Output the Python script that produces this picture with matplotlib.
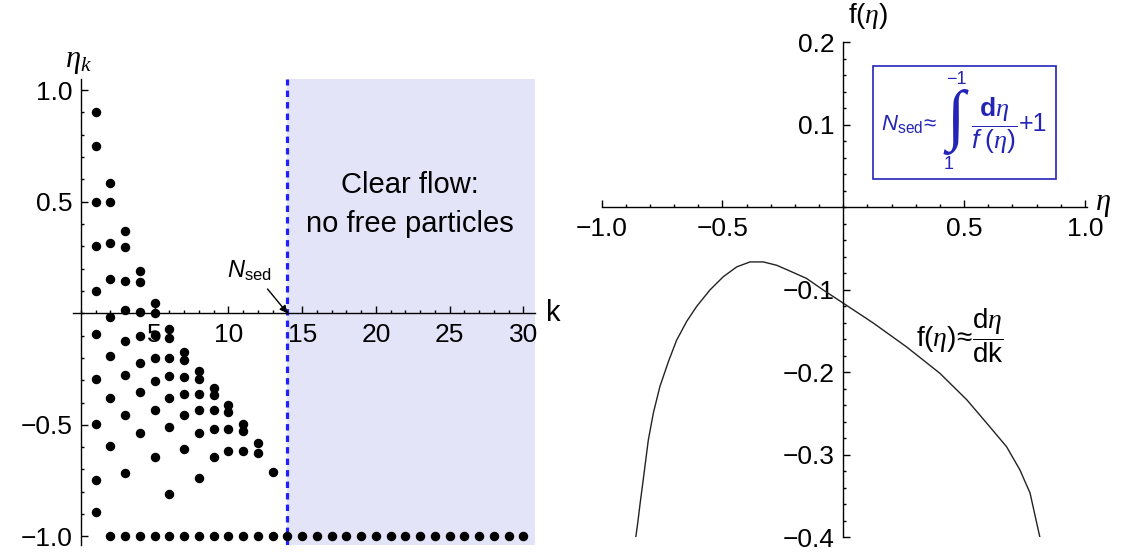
import matplotlib.pyplot as plt
from matplotlib.patches import Rectangle
from matplotlib.ticker import MultipleLocator

plt.rcParams['font.family'] = ['Liberation Sans', 'DejaVu Sans']
plt.rcParams['mathtext.fontset'] = 'custom'
plt.rcParams['mathtext.rm'] = 'Liberation Sans'
plt.rcParams['mathtext.it'] = 'Liberation Serif:italic'
plt.rcParams['mathtext.bf'] = 'Liberation Sans:bold'
plt.rcParams['mathtext.cal'] = 'Liberation Sans:italic'

# free particle positions eta at each step k
col_1 = [0.9, 0.75, 0.5, 0.3, 0.1, -0.095, -0.295, -0.497, -0.747, -0.892]
col_2 = [0.585, 0.5, 0.315, 0.155, -0.018, -0.192, -0.38, -0.594]
col_3 = [0.37, 0.298, 0.146, 0.016, -0.124, -0.277, -0.456, -0.717]
col_4 = [0.19, 0.14, 0.007, -0.10, -0.221, -0.351, -0.538]
col_5 = [0.045, 0.0, -0.097, -0.2, -0.302, -0.433, -0.643]
col_6 = [-0.072, -0.109, -0.2, -0.283, -0.378, -0.51, -0.81]
col_7 = [-0.172, -0.21, -0.284, -0.362, -0.456, -0.609]
col_8 = [-0.26, -0.293, -0.36, -0.433, -0.538, -0.739]
col_9 = [-0.336, -0.368, -0.433, -0.517, -0.642]
col_10 = [-0.411, -0.444, -0.517, -0.615]
col_11 = [-0.496, -0.527, -0.615]
col_12 = [-0.582, -0.625]
col_13 = [-0.712]
free_cols = [col_1, col_2, col_3, col_4, col_5, col_6, col_7,
             col_8, col_9, col_10, col_11, col_12, col_13]

# settled particles sit on the bed
settled_k = list(range(2, 31))
settled_eta = -1.0
n_sed = 14

# f(eta) ~ d eta / dk
eta_curve = [-0.859, -0.851, -0.841, -0.828, -0.807, -0.786, -0.759, -0.724,
             -0.690, -0.648, -0.607, -0.552, -0.497, -0.441, -0.386, -0.331,
             -0.276, -0.221, -0.152, -0.083, 0.0, 0.124, 0.262, 0.400,
             0.511, 0.607, 0.676, 0.731, 0.773, 0.814]
f_curve = [-0.400, -0.383, -0.359, -0.330, -0.282, -0.249, -0.217, -0.187,
           -0.161, -0.138, -0.120, -0.100, -0.084, -0.072, -0.066, -0.066,
           -0.070, -0.077, -0.086, -0.100, -0.116, -0.140, -0.169, -0.201,
           -0.233, -0.266, -0.290, -0.318, -0.346, -0.400]

k_ticks = [5, 10, 15, 20, 25, 30]
k_labels = ['5', '10', '15', '20', '25', '30']
etak_ticks = [-1.0, -0.5, 0.5, 1.0]
etak_labels = ['\u22121.0', '\u22120.5', '0.5', '1.0']
eta_ticks = [-1.0, -0.5, 0.5, 1.0]
eta_labels = ['\u22121.0', '\u22120.5', '0.5', '1.0']
f_ticks = [-0.4, -0.3, -0.2, -0.1, 0.1, 0.2]
f_labels = ['\u22120.4', '\u22120.3', '\u22120.2', '\u22120.1', '0.1', '0.2']

blue = '#1f1fff'
navy = '#2424b8'
tick_fs = 19


def cross_axes(ax):
    for s in ['top', 'right']:
        ax.spines[s].set_visible(False)
    ax.spines['left'].set_position(('data', 0))
    ax.spines['bottom'].set_position(('data', 0))
    for s in ['left', 'bottom']:
        ax.spines[s].set_linewidth(1.0)
    ax.tick_params(which='both', direction='in', width=1.0, labelsize=tick_fs)
    ax.tick_params(which='major', length=5)
    ax.tick_params(which='minor', length=2.5)
    ax.tick_params(axis='x', pad=7)
    ax.tick_params(axis='y', pad=6)
    ax.patch.set_alpha(0)


fig = plt.figure(figsize=(11.28, 5.56), dpi=100)

# left: particle positions per step
ax1 = fig.add_axes([0.0646, 0.0191, 0.4093, 0.839])
ax1.set_xlim(-0.55, 30.75)
ax1.set_ylim(-1.04, 1.05)
ax1.axvspan(n_sed, 30.75, color='#e4e4f9', lw=0, zorder=0)
ax1.axvline(n_sed, color=blue, lw=2.3, ls=(0, (2.0, 1.6)), zorder=1)
for k, col in enumerate(free_cols, start=1):
    ax1.plot([k] * len(col), col, 'o', color='black', ms=5.8, zorder=3)
ax1.plot(settled_k, [settled_eta] * len(settled_k), 'o', color='black',
         ms=5.8, zorder=3)
cross_axes(ax1)
ax1.set_xticks(k_ticks)
ax1.set_xticklabels(k_labels)
ax1.set_yticks(etak_ticks)
ax1.set_yticklabels(etak_labels)
ax1.xaxis.set_minor_locator(MultipleLocator(1))
ax1.yaxis.set_minor_locator(MultipleLocator(0.1))

ax1.text(-0.2, 1.13, r'$\eta_k$', fontsize=22, ha='center', va='center',
         clip_on=False)
ax1.text(32.0, 0.0, 'k', fontsize=21, ha='center', va='center', clip_on=False)
ax1.text(22.3, 0.575, 'Clear flow:', fontsize=21, ha='center', va='center')
ax1.text(22.3, 0.40, 'no free particles', fontsize=21, ha='center', va='center')
ax1.annotate(r'$\mathcal{N}_{\mathrm{sed}}$', xy=(n_sed, 0), xytext=(11.4, 0.19),
             fontsize=17, ha='center', va='center',
             arrowprops=dict(arrowstyle='-|>', color='black', lw=1.0,
                             mutation_scale=11, relpos=(0.8, 0.0),
                             shrinkA=3, shrinkB=0))

# right: f(eta)
ax2 = fig.add_axes([0.5334, 0.0333, 0.4305, 0.8903])
ax2.set_xlim(-1.0, 1.01)
ax2.set_ylim(-0.4, 0.2)
ax2.plot(eta_curve, f_curve, color='#222222', lw=1.0)
cross_axes(ax2)
ax2.set_xticks(eta_ticks)
ax2.set_xticklabels(eta_labels)
ax2.set_yticks(f_ticks)
ax2.set_yticklabels(f_labels)
ax2.xaxis.set_minor_locator(MultipleLocator(0.1))
ax2.yaxis.set_minor_locator(MultipleLocator(0.02))

ax2.text(0.02, 0.232, r'f$(\eta)$', fontsize=20, ha='left', va='center',
         clip_on=False)
ax2.text(1.04, 0.004, r'$\eta$', fontsize=22, ha='left', va='center',
         clip_on=False)
ax2.text(0.483, -0.155, r'f$(\eta)\!\approx\!\dfrac{\mathrm{d}\eta}{\mathrm{dk}}$',
         fontsize=20, ha='center', va='center')

# boxed estimate of N_sed
ax2.add_patch(Rectangle((0.122, 0.035), 0.758, 0.136, facecolor='white',
                        edgecolor=navy, lw=1.2, zorder=4))
box_kw = dict(color=navy, zorder=5, va='center')
ax2.text(0.272, 0.101, r'$\mathcal{N}_{\mathrm{sed}}\!\approx$', fontsize=16,
         ha='center', **box_kw)
ax2.text(0.465, 0.104, '\u222b', fontsize=48,
         family=['Liberation Serif', 'DejaVu Sans'], ha='center', **box_kw)
ax2.text(0.468, 0.155, '\u22121', fontsize=13, ha='center', **box_kw)
ax2.text(0.438, 0.052, '1', fontsize=13, ha='center', **box_kw)
ax2.text(0.625, 0.099, r'$\dfrac{\mathbf{d}\eta}{\mathcal{f}\ (\eta)}$',
         fontsize=19, ha='center', **box_kw)
ax2.text(0.787, 0.101, '+1', fontsize=18, ha='center', **box_kw)

fig.savefig('out.png', dpi=100)
